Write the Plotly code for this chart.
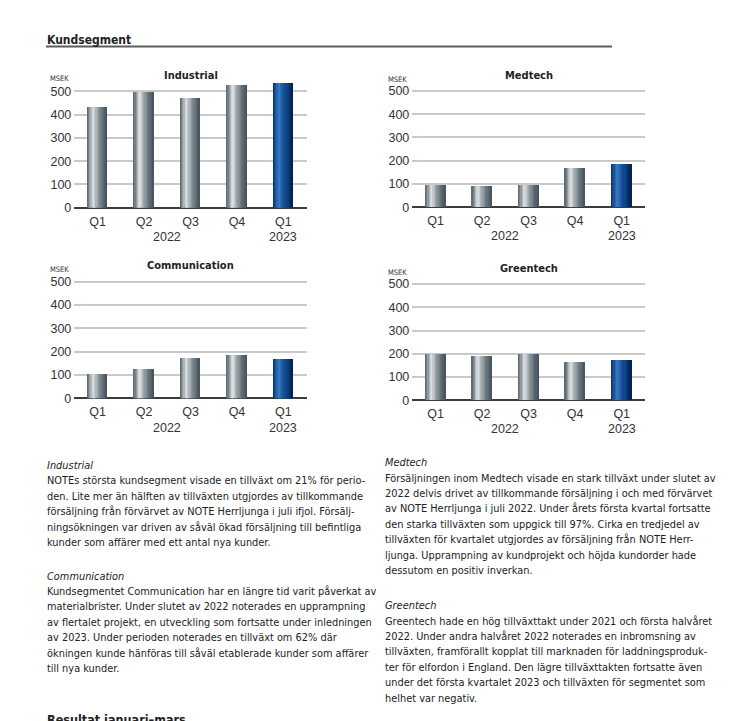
import plotly.graph_objects as go

W, H = 739, 721

quarters = ["Q1", "Q2", "Q3", "Q4", "Q1"]
year_labels = ["2022", "2023"]
year_pos = [1.5, 4]
industrial = [433, 494, 470, 524, 533]
medtech = [94, 90, 94, 170, 187]
communication = [105, 129, 173, 189, 169]
greentech = [197, 192, 199, 165, 171]
y_ticks = [0, 100, 200, 300, 400, 500]

panels = [
    ("Industrial", industrial, (74.3, 306.7), (78.0, 209.8)),
    ("Medtech", medtech, (412.3, 645.0), (77.7, 209.2)),
    ("Communication", communication, (74.3, 306.7), (270.2, 402.2)),
    ("Greentech", greentech, (412.3, 645.0), (272.7, 404.2)),
]
title_y = [76, 76, 268, 271]
msek_y = [79.5, 80, 272.5, 275]
YMAX = 560

def fx(x):
    return x / W

def fy(y):
    return 1 - y / H

def hex2rgb(h):
    h = h.lstrip("#")
    return [int(h[i:i + 2], 16) for i in (0, 2, 4)]

def grad(stops, t):
    for (p0, c0), (p1, c1) in zip(stops, stops[1:]):
        if p0 <= t <= p1:
            a = (t - p0) / (p1 - p0) if p1 > p0 else 0
            r0, r1 = hex2rgb(c0), hex2rgb(c1)
            return "rgb(%d,%d,%d)" % tuple(round(r0[k] + (r1[k] - r0[k]) * a) for k in range(3))
    return stops[-1][1]

gray_stops = [(0, "#56626a"), (0.12, "#7d898f"), (0.32, "#e2e6e8"), (0.5, "#a3adb2"), (0.75, "#6b777e"), (1, "#44515a")]
blue_stops = [(0, "#072e6a"), (0.12, "#134b93"), (0.32, "#3f7fc4"), (0.5, "#1a559e"), (0.75, "#0b3f80"), (1, "#041d48")]

N = 16
BW = 0.43

fig = go.Figure()
font_ax = "Liberation Sans, Arial, sans-serif"
font_narrow = "Liberation Sans Narrow, Arial Narrow, DejaVu Sans Condensed, sans-serif"

for pi, (title, vals, (x0, x1), (ytop, ybot)) in enumerate(panels):
    xa = "x" if pi == 0 else "x%d" % (pi + 1)
    ya = "y" if pi == 0 else "y%d" % (pi + 1)
    xl = "xaxis" if pi == 0 else "xaxis%d" % (pi + 1)
    yl = "yaxis" if pi == 0 else "yaxis%d" % (pi + 1)
    xs = list(range(len(vals)))
    for i in range(N):
        t = (i + 0.5) / N
        colors = [grad(gray_stops, t)] * (len(vals) - 1) + [grad(blue_stops, t)]
        fig.add_trace(go.Bar(
            x=xs, y=vals, xaxis=xa, yaxis=ya,
            width=BW / N * 1.08, offset=-BW / 2 + i * BW / N,
            marker=dict(color=colors, line=dict(width=0)),
            showlegend=False, hoverinfo="skip",
        ))
    fig.layout[xl] = dict(
        domain=[fx(x0), fx(x1)], anchor=ya, range=[-0.5, len(vals) - 0.5],
        tickvals=xs, ticktext=quarters, showgrid=False, showline=False, zeroline=False,
        ticks="outside", ticklen=2, tickcolor="rgba(0,0,0,0)",
        tickfont=dict(family=font_ax, size=12.5, color="#333333"), fixedrange=True,
    )
    fig.layout[yl] = dict(
        domain=[fy(ybot), fy(ytop)], anchor=xa, range=[0, YMAX],
        tickvals=y_ticks, showgrid=True, gridcolor="#c9c9c9", gridwidth=1.6,
        zeroline=True, zerolinecolor="#3c3c3c", zerolinewidth=1.6,
        showline=False, ticks="", ticklabelstandoff=2,
        tickfont=dict(family=font_ax, size=12.5, color="#333333"), fixedrange=True,
    )
    for yl_txt, yp in zip(year_labels, year_pos):
        fig.add_annotation(x=yp, xref=xa, y=fy(ybot + 29.5), yref="paper", text=yl_txt,
                           xanchor="center", yanchor="middle", showarrow=False,
                           font=dict(family=font_ax, size=12.5, color="#333333"))
    fig.add_annotation(x=fx((x0 + x1) / 2), y=fy(title_y[pi]), xref="paper", yref="paper",
                       text="<b>%s</b>" % title, showarrow=False, xanchor="center", yanchor="middle",
                       font=dict(family=font_narrow, size=11, color="#222222"))
    fig.add_annotation(x=fx(x0 - 26), y=fy(msek_y[pi]), xref="paper", yref="paper", text="MSEK",
                       xanchor="left", yanchor="middle", showarrow=False,
                       font=dict(family=font_narrow, size=7.5, color="#333344"))

# headings
fig.add_annotation(x=fx(45), y=fy(40), xref="paper", yref="paper", text="<b>Kundsegment</b>",
                   xanchor="left", yanchor="middle", showarrow=False,
                   font=dict(family=font_narrow, size=12, color="#222222"))
fig.add_shape(type="line", xref="paper", yref="paper", x0=fx(46), x1=fx(612), y0=fy(47), y1=fy(47),
              line=dict(color="#5c5c5c", width=2))
fig.add_annotation(x=fx(45), y=fy(727), xref="paper", yref="paper", text="<b>Resultat januari–mars</b>",
                   xanchor="left", yanchor="middle", showarrow=False,
                   font=dict(family=font_narrow, size=12.5, color="#222222"))

paragraphs = [
    (46, 466, "Industrial", [
        "NOTEs största kundsegment visade en tillväxt om 21% för perio-",
        "den. Lite mer än hälften av tillväxten utgjordes av tillkommande",
        "försäljning från förvärvet av NOTE Herrljunga i juli ifjol. Försälj-",
        "ningsökningen var driven av såväl ökad försäljning till befintliga",
        "kunder som affärer med ett antal nya kunder.",
    ]),
    (46, 577.7, "Communication", [
        "Kundsegmentet Communication har en längre tid varit påverkat av",
        "materialbrister. Under slutet av 2022 noterades en upprampning",
        "av flertalet projekt, en utveckling som fortsatte under inledningen",
        "av 2023. Under perioden noterades en tillväxt om 62% där",
        "ökningen kunde hänföras till såväl etablerade kunder som affärer",
        "till nya kunder.",
    ]),
    (384, 463.3, "Medtech", [
        "Försäljningen inom Medtech visade en stark tillväxt under slutet av",
        "2022 delvis drivet av tillkommande försäljning i och med förvärvet",
        "av NOTE Herrljunga i juli 2022. Under årets första kvartal fortsatte",
        "den starka tillväxten som uppgick till 97%. Cirka en tredjedel av",
        "tillväxten för kvartalet utgjordes av försäljning från NOTE Herr-",
        "ljunga. Upprampning av kundprojekt och höjda kundorder hade",
        "dessutom en positiv inverkan.",
    ]),
    (384, 607.7, "Greentech", [
        "Greentech hade en hög tillväxttakt under 2021 och första halvåret",
        "2022. Under andra halvåret 2022 noterades en inbromsning av",
        "tillväxten, framförallt kopplat till marknaden för laddningsproduk-",
        "ter för elfordon i England. Den lägre tillväxttakten fortsatte även",
        "under det första kvartalet 2023 och tillväxten för segmentet som",
        "helhet var negativ.",
    ]),
]
LH = 15.55
for x, y, head, lines in paragraphs:
    rows = ["<i>%s</i>" % head] + lines
    for k, row in enumerate(rows):
        fig.add_annotation(x=fx(x - 1), y=fy(y + 4 + k * LH), xref="paper", yref="paper", text=row,
                           xanchor="left", yanchor="middle", align="left", showarrow=False,
                           font=dict(family=font_narrow, size=10.9, color="#222222"))

fig.update_layout(
    width=W, height=H, margin=dict(l=0, r=0, t=0, b=0),
    paper_bgcolor="white", plot_bgcolor="white", barmode="overlay", bargap=0,
)

fig.write_html("out.html", config={"displayModeBar": False},
               post_script="document.body.style.margin='0';")
